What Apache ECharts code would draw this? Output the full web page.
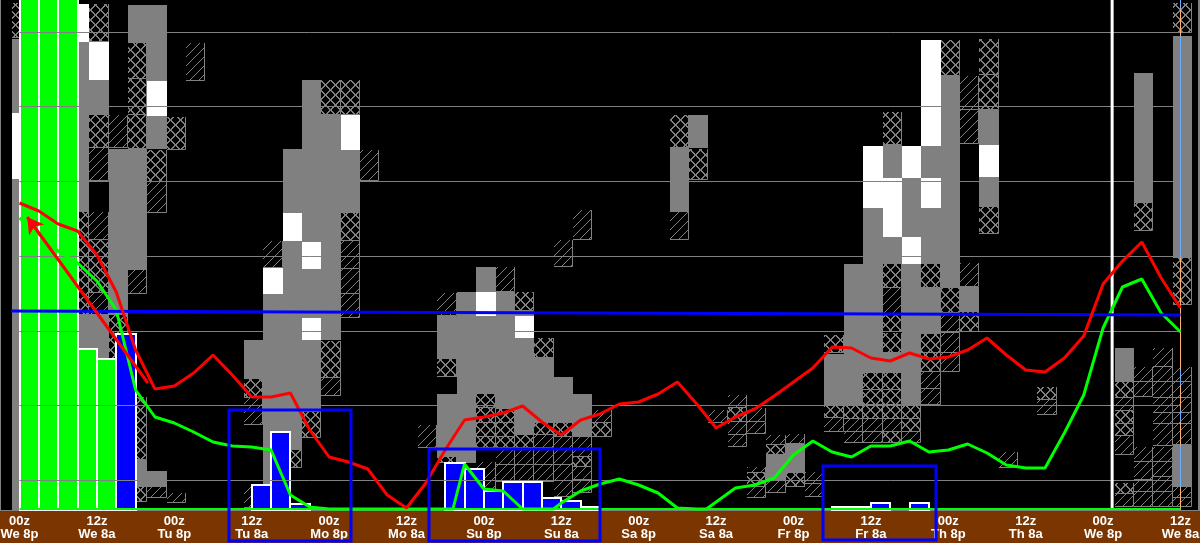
<!DOCTYPE html>
<html><head><meta charset="utf-8">
<style>html,body{margin:0;padding:0;background:#000;overflow:hidden}#c{width:1200px;height:543px}</style>
<script src="https://cdn.jsdelivr.net/npm/echarts@6/dist/echarts.min.js"></script>
</head><body><div id="c"></div>
<script>
// Tick labels, every 12 hours
const tickHours = [0,12,24,36,48,60,72,84,96,108,120,132,144,156,168,180];
const tickZulu = ['00z','12z','00z','12z','00z','12z','00z','12z','00z','12z','00z','12z','00z','12z','00z','12z'];
const tickLocal = ['We 8p','We 8a','Tu 8p','Tu 8a','Mo 8p','Mo 8a','Su 8p','Su 8a','Sa 8p','Sa 8a','Fr 8p','Fr 8a','Th 8p','Th 8a','We 8p','We 8a'];
// Horizontal reference levels
const gridLevels = [478,404,329,254,179,105,30];
// Cells: [column, top level, bottom level]
const grayCells = [[0,471,397],[0,331,0],[3,468,298],[3,195,162],[4,430,395],[4,195,152],[5,361,195],[6,505,467],[6,361,240],[6,50,23],[7,505,429],[7,394,361],[7,39,23],
[12,170,131],[13,216,25],[14,361,297],[14,269,60],[15,430,268],[15,241,192],[15,170,98],[16,395,170],[17,360,297],
[22,194,151],[22,116,53],[23,218,47],[24,243,218],[24,194,116],[25,218,101],[26,199,194],[26,172,75],[27,152,87],[28,133,87],[29,116,73],
[34,362,298],[35,395,362],[39,55,30],[40,66,37],[42,156,105],[43,246,105],[44,302,137],[45,365,332],[45,273,246],[45,157,137],[46,332,273],[46,246,105],[47,364,332],[47,302,246],[47,222,176],[48,434,222],[49,223,198],[50,400,365],[50,333,303],
[57,162,128],[58,437,307],[60,474,252],[60,65,23]];
const whiteCells = [[0,397,331],[3,506,468],[4,468,430],[7,429,394],[13,242,216],[14,297,269],[15,268,241],[15,192,170],[17,395,360],[24,218,194],[26,194,172],[44,364,302],[45,332,273],[46,364,332],[46,273,246],[47,470,364],[47,332,302],[50,365,333]];
const hatchCells = [[4,362,329],[4,298,270],[4,217,195],[5,395,362],[6,240,216],[7,328,297],[7,23,12],[8,17,7],[9,467,429],[12,112,85],[12,25,2],[13,269,242],[16,132,114],[17,269,241],[17,241,216],[17,216,192],[18,360,329],
[21,85,62],[22,217,194],[24,48,19],[25,243,218],[25,62,45],[25,45,28],[26,62,45],[26,45,28],[27,75,62],[27,62,45],[27,45,28],[28,73,60],[28,60,45],[28,45,29],[28,29,13],[28,270,243],[29,300,270],[29,73,53],[29,43,30],[29,30,17],[30,100,87],[34,298,270],
[36,100,87],[37,115,102],[37,88,75],[37,75,63],[38,102,88],[38,88,76],[38,43,37],[38,23,12],[39,75,65],[39,30,17],[40,76,66],[41,38,26],[41,26,13],[42,92,78],[43,91,78],[43,78,67],[44,91,78],[44,78,67],[45,222,195],[45,91,78],[46,78,67],[47,138,121],[47,121,105],[48,197,177],[48,177,157],[48,157,138],[49,434,400],[49,400,366],[49,247,223],[51,58,42],[53,110,95],
[57,112,99],[57,74,55],[57,16,3],[58,143,128],[58,128,113],[58,63,48],[58,48,30],[58,30,18],[58,18,3],[59,162,143],[59,143,128],[59,128,112],[59,112,97],[59,97,86],[59,86,64],[59,63,48],[59,48,33],[59,33,18],[59,18,3],[60,143,128],[60,128,112],[60,112,97],[60,97,86],[60,86,65],[60,23,12],[60,12,3]];
const crossCells = [[0,507,472],[3,298,195],[4,506,468],[4,395,362],[4,270,217],[5,195,150],[6,467,431],[6,431,395],[6,395,361],[6,113,50],[6,23,8],[7,360,328],[8,393,360],
[12,131,112],[14,60,42],[15,98,72],[16,430,395],[16,169,132],[17,430,395],[17,297,269],[22,151,133],[22,53,47],[24,116,102],[24,102,87],[24,87,73],[24,73,62],[25,101,87],[25,87,73],[25,73,62],[26,218,199],[26,75,62],[27,172,152],[27,87,75],[28,87,73],[29,53,43],[30,87,73],
[34,395,362],[35,361,330],[37,102,88],[38,37,23],[39,65,55],[40,37,23],[42,175,157],[42,105,92],[43,105,91],[44,137,120],[44,120,105],[44,105,91],[45,398,365],[45,246,222],[45,195,178],[45,177,157],[45,137,120],[45,120,105],[45,105,91],[45,78,67],[46,105,91],[46,91,78],[47,246,222],[47,176,157],[47,157,138],[48,470,434],[48,222,197],[49,198,178],[50,471,435],[50,435,400],[50,303,276],[53,123,110],
[57,128,112],[57,99,86],[57,86,74],[57,27,16],[58,307,279],[60,507,477],[60,252,205]];
// Bars: [3-hour slot, amount]
const greenBars = [[0,520],[1,520],[2,520],[3,161],[4,151]];
const blueBars = [[5,176],[12,25],[13,78],[14,6],[22,47],[23,41],[24,19],[25,28],[26,28],[27,12],[28,9],[29,3],[42,3],[43,3],[44,7],[46,7]];
const redBars = [[4,2]];
// Lines: [hour, level]
const redLine = [[0,307],[3,299],[6,286],[9,279],[12,255],[15,218],[18,160],[21,121],[24,124],[27,137],[30,155],[33,135],[36,113],[39,113],[42,117],[45,80],[48,53],[51,48],[54,41],[57,15],[60,2],[63,27],[66,60],[69,90],[72,93],[75,97],[78,104],[81,88],[84,75],[87,90],[90,96],[93,106],[96,108],[99,116],[102,128],[105,106],[108,82],[111,93],[114,101],[117,114],[120,128],[123,142],[126,163],[129,162],[132,152],[135,149],[138,157],[141,151],[144,153],[147,160],[150,172],[153,155],[156,140],[159,138],[162,152],[165,174],[168,226],[171,249],[174,268],[177,232],[180,202]];
const greenLine = [[0,292],[3,276],[6,259],[9,247],[12,229],[15,200],[18,120],[21,93],[24,87],[27,78],[30,68],[33,64],[36,63],[39,60],[42,15],[45,3],[48,1],[67.2,1],[69,46],[72,21],[75,19],[78,1],[82.8,1],[84,7],[87,19],[90,26],[93,31],[96,25],[99,17],[102,2],[105,1],[106.5,1],[108,8],[111,22],[114,25],[117,32],[120,55],[123,69],[126,58],[129,53],[132,64],[135,64],[138,69],[141,58],[144,60],[147,66],[150,57],[153,45],[156,42],[159,42],[162,77],[165,115],[168,182],[171,223],[174,231],[177,197],[180,178]];
const baseLine = [[0,1],[180,1]];
// Threshold segment: [start hour, start level, end hour, end level]
const thresholdLine = [[-1.3,199,180,195]];
// Outlined boxes: [start hour, end hour, top level, bottom level]
const boxes = [[32.5,51.4,100,-31],[63.5,90,61,-31],[124.6,142.1,44,-30]];
// Vertical markers
const whiteMarker = [[169.4,510],[169.4,2]];
const nowMarker = [[180,510],[180,0]];
const nowOverGray = [[180,474,252],[180,65,23],[180,510,500],[180,360,340],[180,140,125],[180,100,88]];
// Annotation arrow
const arrowTail = [19.9,127], arrowTip = [1.2,293];

const COL_W = 3, COL_OFFSET = -1.2;
function pattern(kind){
  const P = kind==='hatch'?9:10, c = document.createElement('canvas');
  c.width=c.height=P; const g=c.getContext('2d');
  g.fillStyle='#000'; g.fillRect(0,0,P,P); g.fillStyle='#808080';
  for(let i=0;i<P;i++){
    g.fillRect(i,P-1-i,1,1);
    if(kind==='cross'){ g.fillRect(i,i,1,1); g.fillRect((i+1)%P,i,1,1); g.fillRect((i+1)%P,P-1-i,1,1); }
  }
  return {image:c,repeat:'repeat'};
}
const hatchFill = pattern('hatch'), crossFill = pattern('cross');

function rectOf(api,h0,h1,top,bot){
  const a=api.coord([h0,top]), b=api.coord([h1,bot]);
  const x=Math.round(a[0]), y=Math.round(a[1]);
  return {x,y,width:Math.round(b[0])-x,height:Math.round(b[1])-y};
}
function cellSeries(name,data,fill,border,z){
  return {type:'custom',name,data,z,silent:true,clip:false,
    renderItem(p,api){
      const h=COL_OFFSET+COL_W*api.value(0);
      const r=rectOf(api,h,h+COL_W,api.value(1),api.value(2));
      const kids=[{type:'rect',shape:r,style:{fill}}];
      if(border){
        const R=r.x+r.width-0.5,B=r.y+r.height-0.5;
        kids.push({type:'polyline',shape:{points:[[r.x,B],[R,B],[R,r.y]]},style:{fill:null,stroke:'#808080',lineWidth:1}});
      }
      return {type:'group',children:kids};
    }};
}
function barSeries(name,data,fill,stroke,z){
  return {type:'custom',name,data,z,silent:true,clip:false,
    renderItem(p,api){
      const k=api.value(0);
      const r=rectOf(api,k*COL_W,(k+1)*COL_W,api.value(1),0);
      return {type:'rect',shape:r,style:{fill,stroke:stroke?'#fff':null,lineWidth:2}};
    }};
}
function lineSeries(name,data,color,width,z,extra){
  return Object.assign({type:'line',name,data,z,silent:true,showSymbol:false,clip:false,
    lineStyle:{color,width,cap:'butt'},itemStyle:{color}},extra||{});
}
const option = {
  animation:false, backgroundColor:'#000',
  grid:{left:19.5,right:19.5,top:0,bottom:33,containLabel:false,outerBoundsMode:'none'},
  xAxis:{type:'value',min:0,max:180,interval:12,z:5,
    axisLine:{show:false},axisTick:{show:false},splitLine:{show:false},
    axisLabel:{show:true,margin:5,color:'#fff',fontFamily:'Liberation Sans',fontWeight:'bold',fontSize:13,lineHeight:13,hideOverlap:false,showMinLabel:true,showMaxLabel:true,
      formatter:v=>{const i=tickHours.indexOf(v);return tickZulu[i]+'\n'+tickLocal[i];}}},
  yAxis:{type:'value',min:0,max:510,show:false,splitLine:{show:false}},
  graphic:{elements:[
    {type:'rect',z:0,silent:true,shape:{x:0,y:511,width:1200,height:32},style:{fill:'#7b3500'}},
    {type:'rect',z:0,silent:true,shape:{x:0,y:510,width:1200,height:1},style:{fill:'#808080'}},
    {type:'rect',z:0,silent:true,shape:{x:0,y:0,width:1,height:511},style:{fill:'#808080'}},
    {type:'rect',z:0,silent:true,shape:{x:1198,y:0,width:2,height:511},style:{fill:'#808080'}}
  ]},
  series:[
    cellSeries('gray',grayCells,'#808080',false,1),
    cellSeries('white',whiteCells,'#fff',false,1),
    cellSeries('hatch',hatchCells,hatchFill,true,2),
    cellSeries('cross',crossCells,crossFill,true,2),
    barSeries('greenBars',greenBars,'#00ff00',true,3),
    barSeries('blueBars',blueBars,'#0000ff',true,3),
    barSeries('redBars',redBars,'#ff0000',false,4),
    {type:'custom',name:'levels',data:gridLevels.map(v=>[v]),z:6,silent:true,clip:false,
      renderItem(p,api){const a=api.coord([0,api.value(0)]),b=api.coord([180,api.value(0)]);const y=Math.round(a[1])+0.5;
        return {type:'line',shape:{x1:a[0],y1:y,x2:b[0],y2:y},style:{stroke:'#808080',lineWidth:1}};}},
    lineSeries('whiteMarker',whiteMarker,'#fff',3,7),
    lineSeries('nowMarker',nowMarker,'#ffb070',1,6),
    {type:'custom',name:'nowOverGray',data:nowOverGray,z:7,silent:true,clip:false,
      renderItem(p,api){const a=api.coord([api.value(0),api.value(1)]),b=api.coord([api.value(0),api.value(2)]);const x=Math.round(a[0])-0.5;
        return {type:'line',z2:50,shape:{x1:x,y1:a[1],x2:x,y2:b[1]},style:{stroke:'#6aaeff',lineWidth:1}};}},
    lineSeries('baseline',baseLine,'#00ff00',2,8),
    lineSeries('green',greenLine,'#00ff00',3,8),
    {type:'custom',name:'threshold',data:thresholdLine,z:9,silent:true,clip:false,
      renderItem(p,api){const a=api.coord([api.value(0),api.value(1)]),b=api.coord([api.value(2),api.value(3)]);
        return {type:'line',shape:{x1:a[0],y1:a[1],x2:b[0],y2:b[1]},style:{stroke:'#0000ff',lineWidth:3}};}},
    lineSeries('red',redLine,'#ff0000',3,10,{markLine:{silent:true,animation:false,z:10,label:{show:false},symbolSize:[14,16],
      lineStyle:{color:'#ff0000',width:3,type:'solid'},
      data:[[{coord:arrowTail,symbol:'none'},{coord:arrowTip,symbol:'arrow'}]]}}),
    {type:'custom',name:'boxes',data:boxes,z:20,silent:true,clip:false,
      renderItem(p,api){const r=rectOf(api,api.value(0),api.value(1),api.value(2),api.value(3));
        return {type:'rect',shape:r,style:{fill:null,stroke:'#0000ff',lineWidth:3}};}}
  ]
};
const chart = echarts.init(document.getElementById('c'),null,{renderer:'canvas'});
chart.setOption(option);
</script></body></html>
